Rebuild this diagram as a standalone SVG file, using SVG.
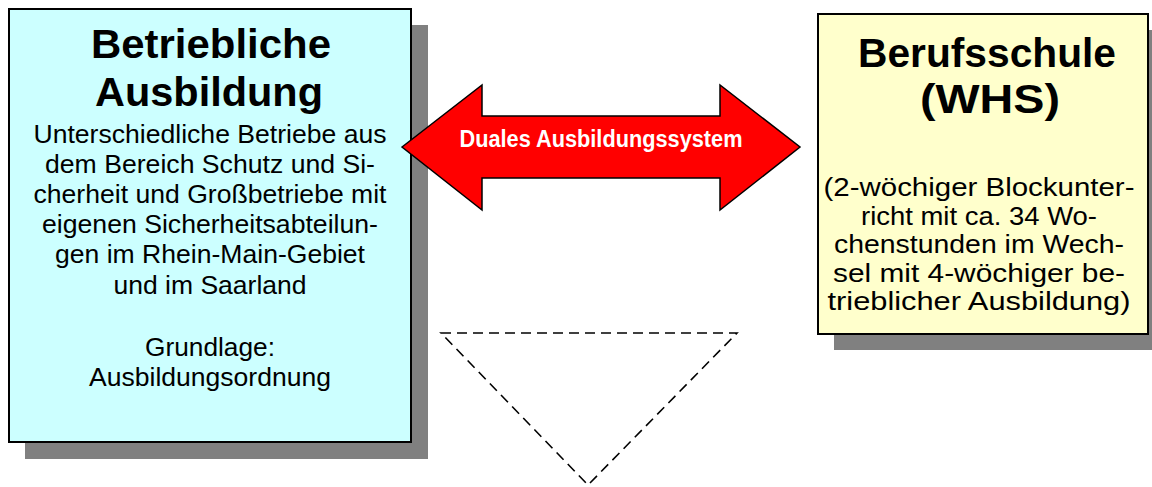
<svg xmlns="http://www.w3.org/2000/svg" width="1152" height="487" viewBox="0 0 1152 487">
<style>
.shadow{fill:#808080;}
.box{stroke:#000;stroke-width:2;}
.title{font-family:"Liberation Sans",Arial,sans-serif;font-weight:bold;font-size:40px;fill:#000;text-anchor:middle;}
.body{font-family:"Liberation Sans",Arial,sans-serif;font-size:25px;fill:#000;text-anchor:middle;}
.rbody{font-size:26px;}
.lbl{font-family:"Liberation Sans",Arial,sans-serif;font-weight:bold;font-size:23px;fill:#fff;text-anchor:middle;}
</style>
<rect width="1152" height="487" fill="#fff"/>
<g id="betrieb">
<rect class="shadow" x="25" y="25" width="403" height="434"/>
<rect class="box" x="9" y="9" width="402" height="433" fill="#CCFFFF"/>
<text class="title" x="211" y="58" textLength="240" lengthAdjust="spacingAndGlyphs">Betriebliche</text>
<text class="title" x="209" y="106" textLength="228" lengthAdjust="spacingAndGlyphs">Ausbildung</text>
<text class="body" x="210" y="143" textLength="353" lengthAdjust="spacingAndGlyphs">Unterschiedliche Betriebe aus</text>
<text class="body" x="210" y="173" textLength="330" lengthAdjust="spacingAndGlyphs">dem Bereich Schutz und Si-</text>
<text class="body" x="210" y="203" textLength="353" lengthAdjust="spacingAndGlyphs">cherheit und Großbetriebe mit</text>
<text class="body" x="210" y="233" textLength="336" lengthAdjust="spacingAndGlyphs">eigenen Sicherheitsabteilun-</text>
<text class="body" x="210" y="263" textLength="310" lengthAdjust="spacingAndGlyphs">gen im Rhein-Main-Gebiet</text>
<text class="body" x="210" y="294" textLength="193" lengthAdjust="spacingAndGlyphs">und im Saarland</text>
<text class="body" x="210" y="356" textLength="130" lengthAdjust="spacingAndGlyphs">Grundlage:</text>
<text class="body" x="210" y="386" textLength="242" lengthAdjust="spacingAndGlyphs">Ausbildungsordnung</text>
</g>
<g id="berufsschule">
<rect class="shadow" x="834" y="30" width="330" height="320"/>
<rect class="box" x="818" y="14" width="330" height="320" fill="#FFFFCC"/>
<text class="title" x="987" y="67" textLength="258" lengthAdjust="spacingAndGlyphs">Berufsschule</text>
<text class="title" x="990" y="113" textLength="140" lengthAdjust="spacingAndGlyphs">(WHS)</text>
<text class="body rbody" x="979" y="196" textLength="311" lengthAdjust="spacingAndGlyphs">(2-wöchiger Blockunter-</text>
<text class="body rbody" x="979" y="225" textLength="236" lengthAdjust="spacingAndGlyphs">richt mit ca. 34 Wo-</text>
<text class="body rbody" x="979" y="253" textLength="290" lengthAdjust="spacingAndGlyphs">chenstunden im Wech-</text>
<text class="body rbody" x="979" y="282" textLength="292" lengthAdjust="spacingAndGlyphs">sel mit 4-wöchiger be-</text>
<text class="body rbody" x="979" y="310" textLength="303" lengthAdjust="spacingAndGlyphs">trieblicher Ausbildung)</text>
</g>
<g id="connectors">
<g id="dual-arrow">
<polygon points="402,147 482,85 482,116 720,116 720,85 800,147 720,210 720,178 482,178 482,210" fill="#FF0000" stroke="#000" stroke-width="1.5" stroke-linejoin="miter"/>
<text class="lbl" x="601" y="146.5" textLength="283" lengthAdjust="spacingAndGlyphs">Duales Ausbildungssystem</text>
</g>
<polygon id="triangle" points="441,333 737,333 588,485" fill="none" stroke="#000" stroke-width="1.6" stroke-dasharray="10,6"/>
</g>
</svg>
